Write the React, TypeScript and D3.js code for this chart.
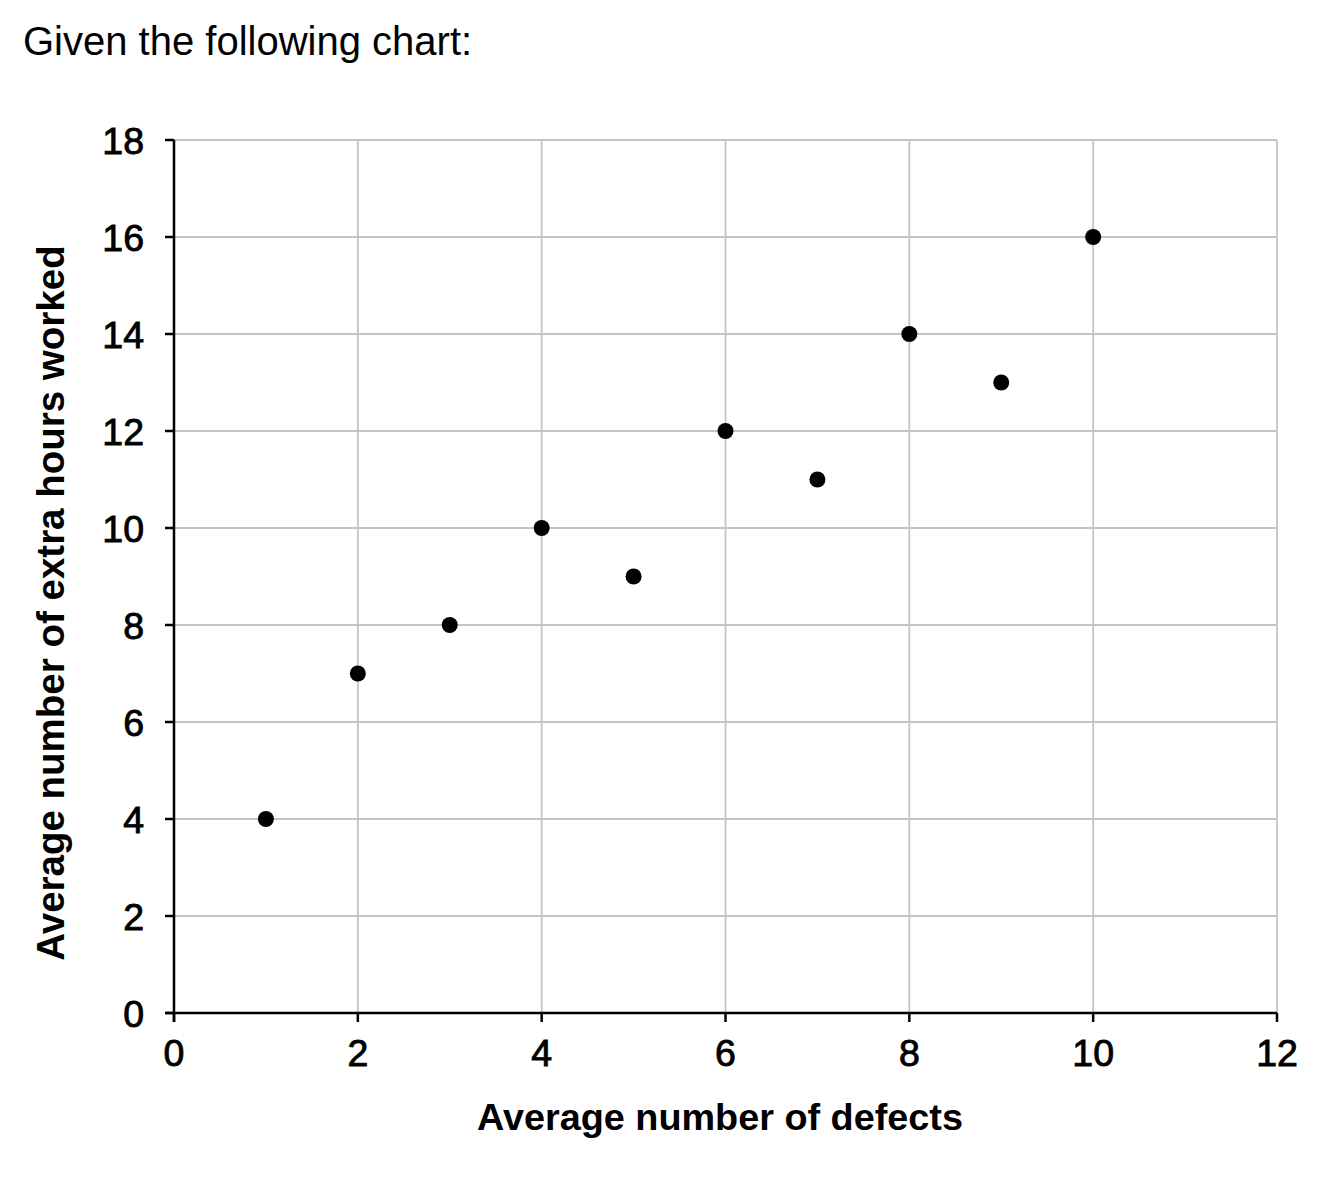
import React from "react";
import * as d3 from "d3";

const defects: number[] = [1, 2, 3, 4, 5, 6, 7, 8, 9, 10];
const extraHours: number[] = [4, 7, 8, 10, 9, 12, 11, 14, 13, 16];
const xTicks: number[] = [0, 2, 4, 6, 8, 10, 12];
const yTicks: number[] = [0, 2, 4, 6, 8, 10, 12, 14, 16, 18];

const W = 1327;
const H = 1186;
const left = 174;
const right = 1277;
const top = 140;
const bottom = 1013;
const FONT = "'Liberation Sans', Arial, Helvetica, sans-serif";

export default function App() {
  const x = d3.scaleLinear().domain([0, 12]).range([left, right]);
  const y = d3.scaleLinear().domain([0, 18]).range([bottom, top]);
  const pts = defects.map((d, i) => ({ x: d, y: extraHours[i] }));
  const grid = "#c4c4c4";
  return (
    <svg
      width={W}
      height={H}
      style={{ position: "absolute", left: 0, top: 0, background: "#fff" }}
      fontFamily={FONT}
    >
      <rect x={0} y={0} width={W} height={H} fill="#fff" />
      <text x={23} y={55} fontSize={40} fill="#000">
        Given the following chart:
      </text>
      {/* gridlines */}
      {xTicks
        .filter((t) => t > 0)
        .map((t) => (
          <line key={"gx" + t} x1={x(t)} x2={x(t)} y1={top} y2={bottom} stroke={grid} strokeWidth={1.8} />
        ))}
      {yTicks
        .filter((t) => t > 0)
        .map((t) => (
          <line key={"gy" + t} x1={left} x2={right} y1={y(t)} y2={y(t)} stroke={grid} strokeWidth={1.8} />
        ))}
      {/* axes */}
      <line x1={left} x2={left} y1={top} y2={bottom + 9} stroke="#000" strokeWidth={2.5} />
      <line x1={left - 9} x2={right} y1={bottom} y2={bottom} stroke="#000" strokeWidth={2.5} />
      {xTicks.map((t) => (
        <g key={"xt" + t}>
          <line x1={x(t)} x2={x(t)} y1={bottom} y2={bottom + 9} stroke="#000" strokeWidth={2.5} />
          <text x={x(t)} y={1066} fontSize={37.5} textAnchor="middle" fill="#000" stroke="#000" strokeWidth={0.9}>
            {t}
          </text>
        </g>
      ))}
      {yTicks.map((t) => (
        <g key={"yt" + t}>
          <line x1={left - 9} x2={left} y1={y(t)} y2={y(t)} stroke="#000" strokeWidth={2.5} />
          <text x={144} y={y(t)} dy="0.36em" fontSize={37.5} textAnchor="end" fill="#000" stroke="#000" strokeWidth={0.9}>
            {t}
          </text>
        </g>
      ))}
      {/* points */}
      {pts.map((p, i) => (
        <circle key={"p" + i} cx={x(p.x)} cy={y(p.y)} r={8} fill="#000" />
      ))}
      {/* axis titles */}
      <text x={720} y={1130} fontSize={37.8} fontWeight="bold" textAnchor="middle" fill="#000">
        Average number of defects
      </text>
      <text
        transform={`translate(64,603) rotate(-90)`}
        fontSize={38.5}
        fontWeight="bold"
        textAnchor="middle"
        fill="#000"
      >
        Average number of extra hours worked
      </text>
    </svg>
  );
}
